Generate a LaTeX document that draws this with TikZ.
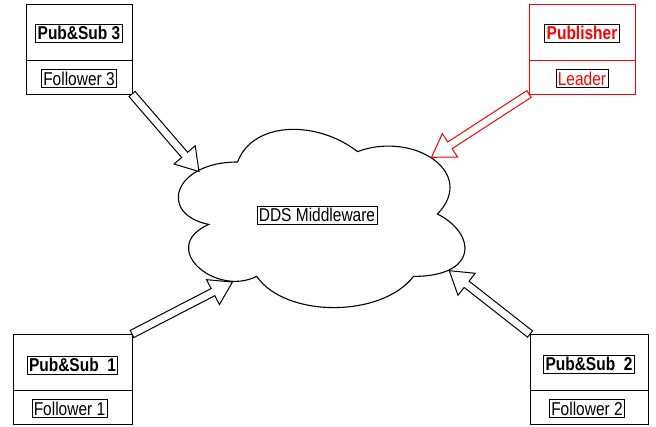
\documentclass[tikz,border=0pt]{standalone}
\usepackage{fontspec}
\setmainfont{Liberation Sans}
\usetikzlibrary{calc,positioning}
\newcommand{\flexarrow}[3][black]{%
	\coordinate (fa_h) at ($(#3)!22pt!(#2)$);
	\draw[#1,line width=1pt,fill=white,line join=miter]
		($(#2)!4pt!90:(#3)$) -- ($(fa_h)!4pt!-90:(#2)$) -- ($(fa_h)!14pt!-90:(#2)$) -- (#3)
		-- ($(fa_h)!14pt!90:(#2)$) -- ($(fa_h)!4pt!90:(#2)$) -- ($(#2)!4pt!-90:(#3)$) -- cycle;
}
\begin{document}
\begin{tikzpicture}[x=1pt,y=-1pt]
		\tikzstyle{part}=[draw,line width=1pt,outer sep=0pt,inner sep=0pt,anchor=north west]
		\tikzstyle{tag}=[draw=black,line width=0.8pt,inner sep=1.8pt,yscale=1.2,transform shape,font=\fontsize{15.5}{18}\selectfont]
		\tikzstyle{title}=[tag,font=\fontsize{15.5}{18}\selectfont\bfseries]
		\useasboundingbox (0,0) rectangle (656,426);
		% the cloud
		\begin{scope}[shift={(157.5,110)},x=320pt,y=-208pt]
		\draw[line width=1.1pt] (0.25,0.25) .. controls (0.05,0.25) and (0,0.5) .. (0.16,0.55)
			.. controls (0,0.66) and (0.18,0.9) .. (0.31,0.8)
			.. controls (0.4,1) and (0.7,1) .. (0.8,0.8)
			.. controls (1,0.8) and (1,0.6) .. (0.875,0.5)
			.. controls (1,0.3) and (0.8,0.1) .. (0.625,0.2)
			.. controls (0.5,0.05) and (0.3,0.05) .. (0.25,0.25) -- cycle;
		\end{scope}
		\node[tag] (dds) at (317,215) {DDS Middleware};
		% the four participants
		\node[part,minimum width=106,minimum height=56] (ps_3) at (26,4) {};
		\node[part,minimum width=106,minimum height=34,below=0pt of ps_3] (ps_3b) {};
		\node[title] (ps_3n) at ($(ps_3)+(0,1)$) {Pub\&Sub 3};
		\node[tag] (ps_3f) at ($(ps_3b)+(0,1.5)$) {Follower 3};
		\node[part,draw=red,minimum width=106,minimum height=56] (pub) at (529,4) {};
		\node[part,draw=red,minimum width=106,minimum height=34,below=0pt of pub] (pubb) {};
		\node[title,text=red] (pubn) at ($(pub)+(0,1)$) {Publisher};
		\node[tag,text=red] (pubf) at ($(pubb)+(0,1.5)$) {Leader};
		\node[part,minimum width=119,minimum height=56] (ps_1) at (13,334) {};
		\node[part,minimum width=119,minimum height=34,below=0pt of ps_1] (ps_1b) {};
		\node[title] (ps_1n) at ($(ps_1)+(0,3)$) {Pub\&Sub\ \ 1};
		\node[tag] (ps_1f) at ($(ps_1b)+(-3,1.5)$) {Follower 1};
		\node[part,minimum width=118,minimum height=56] (ps_2) at (530,334) {};
		\node[part,minimum width=118,minimum height=34,below=0pt of ps_2] (ps_2b) {};
		\node[title] (ps_2n) at ($(ps_2)+(0,2)$) {Pub\&Sub\ \ 2};
		\node[tag] (ps_2f) at ($(ps_2b)+(-2,1.5)$) {Follower 2};
		% arrows into the cloud
		\coordinate (t_3) at (199,171.5);
		\coordinate (t_p) at (431.5,157.3);
		\coordinate (t_1) at (232.5,282);
		\coordinate (t_2) at (449.3,270.7);
		\flexarrow{ps_3b.south east}{t_3}
		\flexarrow[red]{pubb.south west}{t_p}
		\flexarrow{ps_1.north east}{t_1}
		\flexarrow{ps_2.north west}{t_2}
	\end{tikzpicture}
\end{document}
